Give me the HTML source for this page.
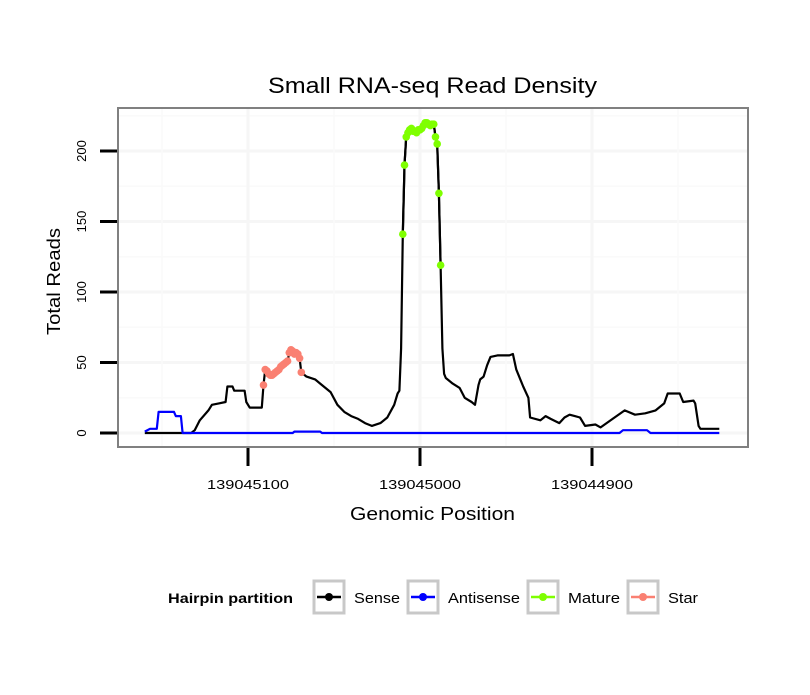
<!DOCTYPE html>
<html><head><meta charset="utf-8"><style>
body{margin:0;background:#fff;}
svg text{font-family:"Liberation Sans",sans-serif;}
</style></head><body>
<svg id="chart" width="810" height="690" viewBox="0 0 810 690" xmlns="http://www.w3.org/2000/svg">
<rect width="810" height="690" fill="#fff"/>
<text x="268" y="93" font-size="22" textLength="329" lengthAdjust="spacingAndGlyphs">Small RNA-seq Read Density</text>
<g id="grid"></g>
<g id="series"></g>
<rect x="118" y="108" width="630" height="339" fill="none" stroke="#808080" stroke-width="2"/>
<g id="axes"></g>
<text x="0" y="0" transform="translate(60,335) rotate(-90)" font-size="18" textLength="107" lengthAdjust="spacingAndGlyphs">Total Reads</text>
<text x="350" y="520" font-size="18" textLength="165" lengthAdjust="spacingAndGlyphs">Genomic Position</text>
<g>
<text x="168" y="603" font-size="14" font-weight="bold" textLength="125" lengthAdjust="spacingAndGlyphs">Hairpin partition</text>
<g><rect x="314" y="581" width="30" height="32" fill="#fff" stroke="#c8c8c8" stroke-width="3"/><line x1="317" y1="597" x2="341" y2="597" stroke="#000" stroke-width="2.5"/><circle cx="329" cy="597" r="4" fill="#000"/><text x="354" y="603" font-size="15" textLength="46" lengthAdjust="spacingAndGlyphs">Sense</text></g>
<g><rect x="408" y="581" width="30" height="32" fill="#fff" stroke="#c8c8c8" stroke-width="3"/><line x1="411" y1="597" x2="435" y2="597" stroke="#0000ff" stroke-width="2.5"/><circle cx="423" cy="597" r="4" fill="#0000ff"/><text x="448" y="603" font-size="15" textLength="72" lengthAdjust="spacingAndGlyphs">Antisense</text></g>
<g><rect x="528" y="581" width="30" height="32" fill="#fff" stroke="#c8c8c8" stroke-width="3"/><line x1="531" y1="597" x2="555" y2="597" stroke="#7fff00" stroke-width="2.5"/><circle cx="543" cy="597" r="4" fill="#7fff00"/><text x="568" y="603" font-size="15" textLength="52" lengthAdjust="spacingAndGlyphs">Mature</text></g>
<g><rect x="628" y="581" width="30" height="32" fill="#fff" stroke="#c8c8c8" stroke-width="3"/><line x1="631" y1="597" x2="655" y2="597" stroke="#fa8072" stroke-width="2.5"/><circle cx="643" cy="597" r="4" fill="#fa8072"/><text x="668" y="603" font-size="15" textLength="30" lengthAdjust="spacingAndGlyphs">Star</text></g>
</g>
</svg>
<script>
const senseOffsets=[160,133,131,128,123,121,117,113,112,109,108,102,101,99,92,91,90,89,88,87,86,85,84,83,82,81,80,79,78,77,76,75,74,73,72,71,70,69,66,61,58,52,48,44,40,36,32,28,23,19,15,13,12,11,10,9,8,7,6,5,4,3,2,1,0,-1,-2,-3,-4,-5,-6,-7,-8,-9,-10,-11,-12,-13,-14,-15,-19,-23,-26,-30,-32,-34,-35,-37,-39,-41,-45,-52,-54,-56,-60,-63,-64,-70,-73,-76,-81,-84,-87,-90,-93,-96,-102,-105,-112,-119,-125,-131,-137,-142,-144,-151,-153,-159,-160,-162,-163,-174];
const senseValues=[0,0,2,9,16,20,21,22,33,33,30,30,22,18,18,34,45,44,42,41,41,42,43,44,45,47,48,49,50,51,57,59,58,56,57,56,53,43,40,38,35,29,20,15,12,10,7,5,7,11,20,28,30,60,141,190,210,213,215,216,214,214,213,215,215,216,218,220,220,219,218,219,219,210,205,170,119,60,42,39,35,32,25,22,20,34,38,40,48,54,55,55,56,45,33,25,11,9,12,10,7,11,13,12,11,5,6,4,10,16,13,14,16,21,28,28,22,23,21,5,3,3];
const antiOffsets=[160,157,153,152,143,142,139,138,74,73,58,57,-116,-118,-132,-134,-174];
const antiValues=[1,3,3,15,15,12,12,0,0,1,1,0,0,2,2,0,0];
const matureOffsets=[10,9,8,7,6,5,4,3,2,1,0,-1,-2,-3,-4,-5,-6,-7,-8,-9,-10,-11,-12];
const matureValues=[141,190,210,213,215,216,214,214,213,215,215,216,218,220,220,219,218,219,219,210,205,170,119];
const starOffsets=[91,90,89,88,87,86,85,84,83,82,81,80,79,78,77,76,75,74,73,72,71,70,69];
const starValues=[34,45,44,42,41,41,42,43,44,45,47,48,49,50,51,57,59,58,56,57,56,53,43];
const xTicks=[139045100,139045000,139044900];
const yTicks=[0,50,100,150,200];
const BASE=139045000;
const NS="http://www.w3.org/2000/svg";
function xs(pos){return 420-1.72*(pos-BASE);}
function xo(off){return xs(BASE+off);}
function ys(v){return 433-1.41*v;}
function mk(tag,attrs,parent){const e=document.createElementNS(NS,tag);for(const k in attrs)e.setAttribute(k,attrs[k]);parent.appendChild(e);return e;}
const grid=document.getElementById('grid'),series=document.getElementById('series'),axes=document.getElementById('axes');
mk('rect',{x:118,y:108,width:630,height:339,fill:'#fff'},grid);
for(let v=25;v<=225;v+=50){const l=mk('line',{x1:119,x2:747,y1:ys(v),y2:ys(v),stroke:'#fafafa','stroke-width':1.5},grid);

}
yTicks.forEach(v=>{const l=mk('line',{x1:119,x2:747,y1:ys(v),y2:ys(v),stroke:'#f6f6f6','stroke-width':3},grid);

});
[139045150,139045050,139044950,139044850].forEach(p=>{const l=mk('line',{x1:xs(p),x2:xs(p),y1:109,y2:446,stroke:'#fafafa','stroke-width':1.5},grid);

});
xTicks.forEach(p=>{const l=mk('line',{x1:xs(p),x2:xs(p),y1:109,y2:446,stroke:'#f6f6f6','stroke-width':3},grid);

});
function path(offs,vals,color,name){const d=offs.map((o,i)=>(i?'L':'M')+xo(o).toFixed(1)+','+ys(vals[i]).toFixed(1)).join('');
const p=mk('path',{d:d,fill:'none',stroke:color,'stroke-width':2.2,'stroke-linejoin':'round'},series);

}
function pts(offs,vals,color,name){offs.forEach((o,i)=>{const c=mk('circle',{cx:xo(o),cy:ys(vals[i]),r:3.8,fill:color},series);

});}
path(senseOffsets,senseValues,'#000','sense-line');
path(antiOffsets,antiValues,'#0000ff','antisense-line');
path(matureOffsets,matureValues,'#000','mature-line');
pts(matureOffsets,matureValues,'#7fff00','mature-point');
pts(starOffsets,starValues,'#fa8072','star-point');
yTicks.forEach(v=>{const t=mk('line',{x1:100,x2:117,y1:ys(v),y2:ys(v),stroke:'#000','stroke-width':3},axes);


const tx=mk('text',{transform:`translate(86,${ys(v)}) rotate(-90)`,'font-size':13,'text-anchor':'middle',fill:'#000'},axes);tx.textContent=v;

});
xTicks.forEach(p=>{const t=mk('line',{x1:xs(p),x2:xs(p),y1:448,y2:466,stroke:'#000','stroke-width':3},axes);


const tx=mk('text',{x:xs(p)-41,y:489,'font-size':13,textLength:82,lengthAdjust:'spacingAndGlyphs',fill:'#000'},axes);tx.textContent=p;

});
</script>
</body></html>
